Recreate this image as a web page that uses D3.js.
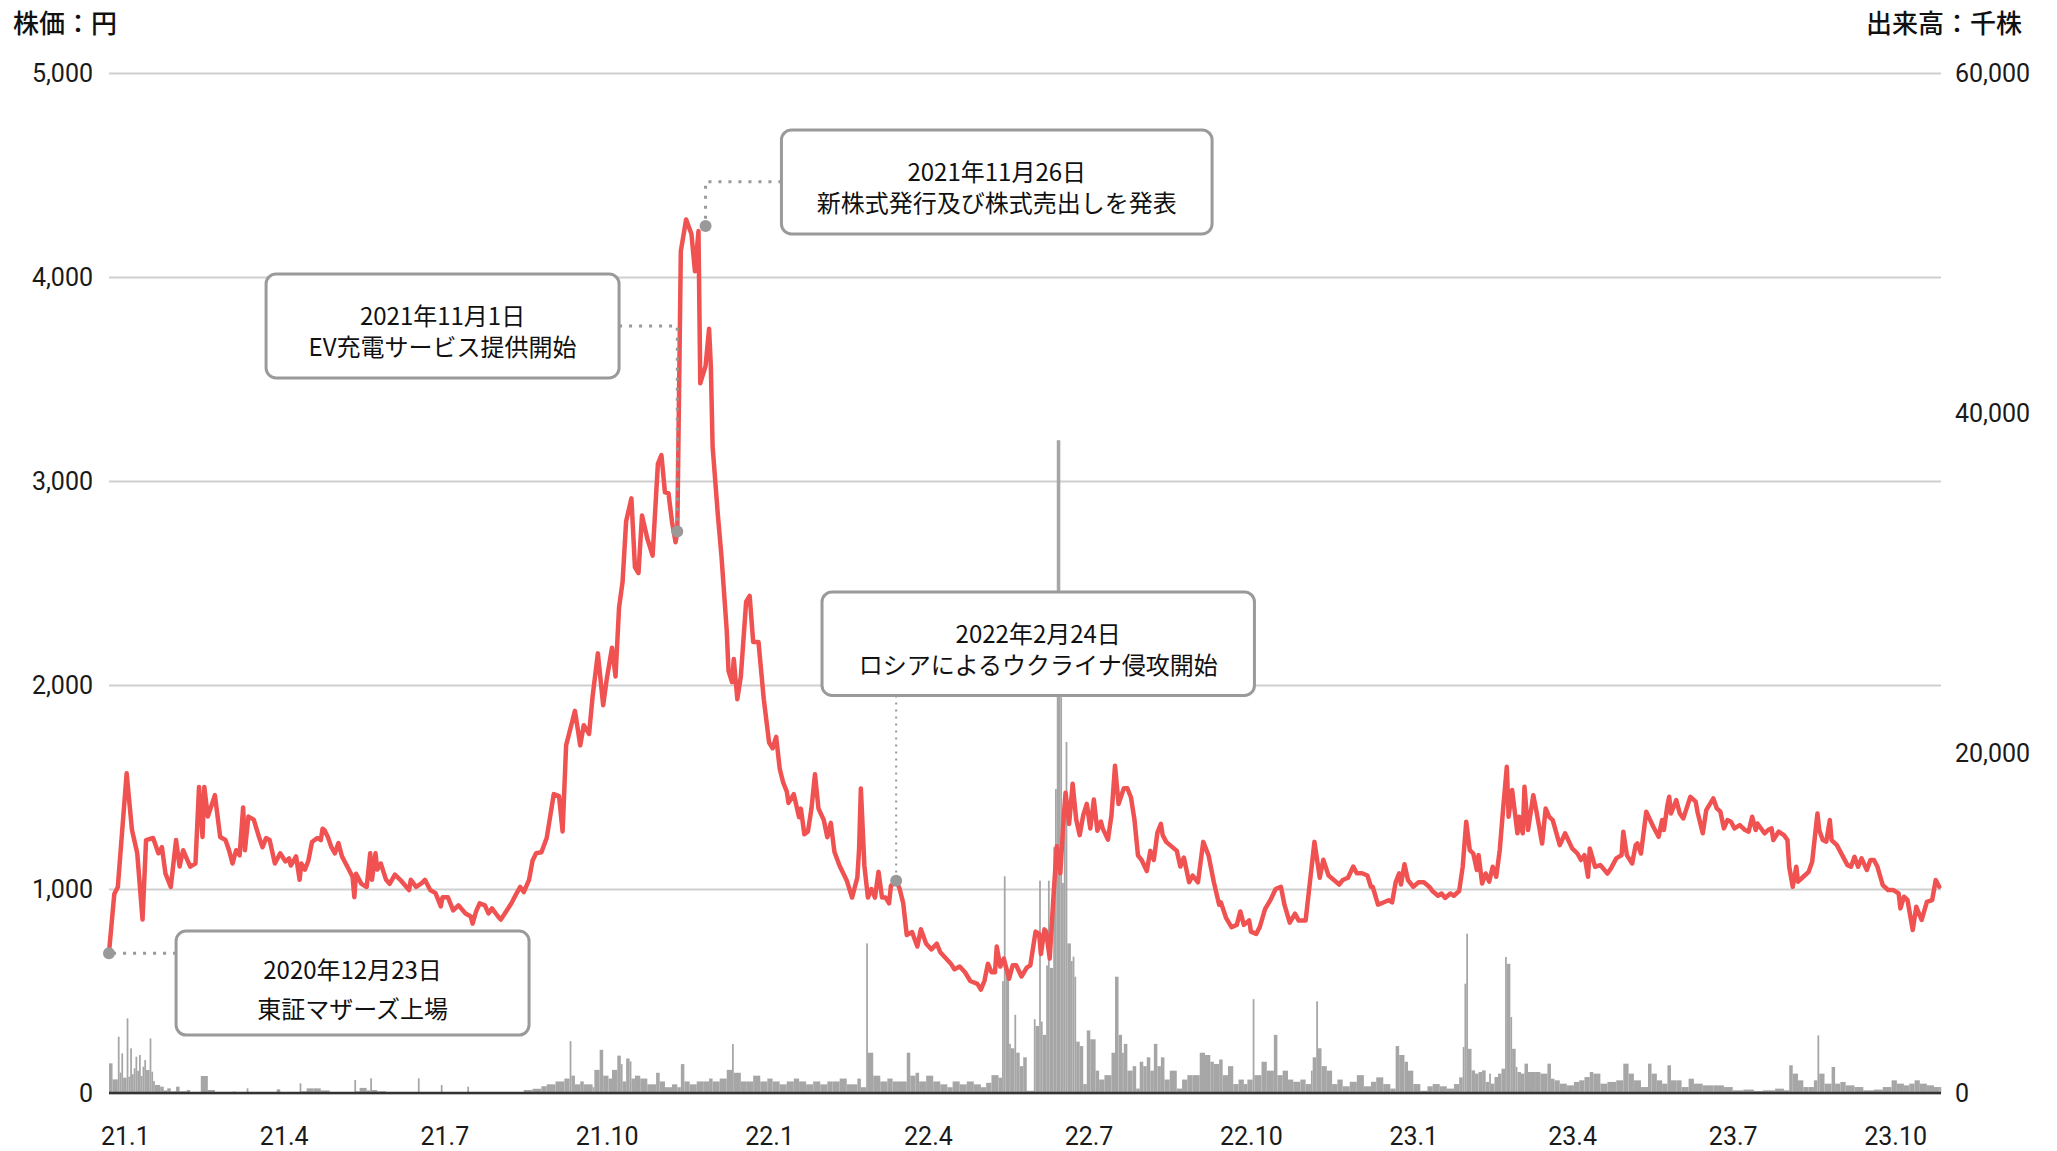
<!DOCTYPE html>
<html><head><meta charset="utf-8">
<script src="https://cdn.jsdelivr.net/npm/d3@7"></script>
<style>
html,body{margin:0;padding:0;background:#fff;}
svg{display:block;}
</style></head>
<body>
<svg id="chart" width="2057" height="1151"></svg>
<script>
// ---------------- DATA ----------------
const priceData = [
["2020-12-23",690],["2020-12-26",975],["2020-12-28",1010],
["2021-01-02",1567],["2021-01-05",1290],["2021-01-08",1175],["2021-01-11",850],["2021-01-13",1240],["2021-01-17",1250],["2021-01-20",1175],["2021-01-22",1205],["2021-01-24",1075],["2021-01-27",1010],["2021-01-30",1240],
["2021-02-01",1110],["2021-02-03",1190],["2021-02-07",1110],["2021-02-10",1125],["2021-02-12",1500],["2021-02-14",1255],["2021-02-15",1500],["2021-02-17",1355],["2021-02-21",1460],["2021-02-24",1255],["2021-02-27",1240],
["2021-03-01",1190],["2021-03-03",1125],["2021-03-05",1190],["2021-03-07",1165],["2021-03-09",1400],["2021-03-10",1190],["2021-03-12",1355],["2021-03-15",1340],["2021-03-18",1255],["2021-03-20",1205],["2021-03-22",1250],["2021-03-24",1240],["2021-03-27",1125],["2021-03-30",1175],
["2021-04-02",1135],["2021-04-04",1150],["2021-04-05",1115],["2021-04-08",1160],["2021-04-10",1045],["2021-04-11",1125],["2021-04-13",1095],["2021-04-15",1140],["2021-04-17",1230],["2021-04-20",1250],["2021-04-22",1240],["2021-04-23",1295],["2021-04-24",1290],["2021-04-26",1255],["2021-04-28",1205],["2021-04-30",1175],
["2021-05-02",1225],["2021-05-04",1160],["2021-05-07",1110],["2021-05-10",1060],["2021-05-11",960],["2021-05-12",1075],["2021-05-15",1025],["2021-05-18",1010],["2021-05-20",1175],["2021-05-21",1045],["2021-05-23",1175],["2021-05-24",1095],["2021-05-26",1125],["2021-05-29",1045],["2021-05-31",1025],
["2021-06-03",1070],["2021-06-06",1045],["2021-06-11",995],["2021-06-12",1045],["2021-06-15",1010],["2021-06-18",1027],["2021-06-20",1045],["2021-06-23",995],["2021-06-26",980],["2021-06-29",915],["2021-06-30",960],
["2021-07-03",960],["2021-07-06",895],["2021-07-09",920],["2021-07-13",880],["2021-07-16",865],["2021-07-17",830],["2021-07-19",890],["2021-07-21",930],["2021-07-24",920],["2021-07-26",880],["2021-07-28",905],["2021-07-31",870],
["2021-08-02",850],["2021-08-05",890],["2021-08-08",930],["2021-08-11",980],["2021-08-13",1010],["2021-08-15",985],["2021-08-18",1045],["2021-08-20",1140],["2021-08-22",1175],["2021-08-25",1180],["2021-08-28",1250],
["2021-09-01",1465],["2021-09-04",1455],["2021-09-06",1282],["2021-09-08",1704],["2021-09-13",1873],["2021-09-16",1704],["2021-09-18",1803],["2021-09-21",1760],["2021-09-23",1944],["2021-09-26",2155],["2021-09-29",1901],
["2021-10-01",2028],["2021-10-04",2183],["2021-10-06",2042],["2021-10-08",2380],["2021-10-10",2507],["2021-10-12",2803],["2021-10-15",2915],["2021-10-17",2577],["2021-10-19",2549],["2021-10-21",2831],["2021-10-24",2718],["2021-10-27",2634],["2021-10-30",3084],
["2021-11-01",3127],["2021-11-03",2944],["2021-11-05",2940],["2021-11-07",2800],["2021-11-09",2700],["2021-11-10",2752],["2021-11-12",4127],["2021-11-15",4282],["2021-11-18",4211],["2021-11-20",4028],["2021-11-22",4225],["2021-11-23",3479],["2021-11-26",3563],["2021-11-28",3746],["2021-11-29",3563],["2021-11-30",3169],
["2021-12-03",2831],["2021-12-05",2634],["2021-12-08",2268],["2021-12-09",2070],["2021-12-11",2014],["2021-12-12",2127],["2021-12-14",1930],["2021-12-16",2042],["2021-12-19",2408],["2021-12-21",2437],["2021-12-23",2211],["2021-12-26",2211],["2021-12-29",1930],
["2022-01-01",1718],["2022-01-03",1690],["2022-01-05",1746],["2022-01-07",1591],["2022-01-09",1521],["2022-01-11",1479],["2022-01-12",1422],["2022-01-15",1465],["2022-01-18",1352],["2022-01-19",1394],["2022-01-21",1268],["2022-01-23",1282],["2022-01-25",1394],["2022-01-27",1563],["2022-01-29",1394],
["2022-02-01",1338],["2022-02-03",1254],["2022-02-05",1324],["2022-02-07",1183],["2022-02-10",1113],["2022-02-14",1042],["2022-02-17",958],["2022-02-20",1056],["2022-02-21",1197],["2022-02-22",1493],["2022-02-24",1113],["2022-02-26",958],["2022-02-28",1000],
["2022-03-02",958],["2022-03-04",1084],["2022-03-06",958],["2022-03-08",958],["2022-03-10",930],["2022-03-11",1014],["2022-03-14",1042],["2022-03-16",1000],["2022-03-18",930],["2022-03-20",775],["2022-03-23",789],["2022-03-26",718],["2022-03-28",803],["2022-03-31",732],
["2022-04-03",704],["2022-04-06",732],["2022-04-08",690],["2022-04-11",662],["2022-04-14",634],["2022-04-16",606],["2022-04-19",620],["2022-04-22",592],["2022-04-25",549],["2022-04-29",535],
["2022-05-01",507],["2022-05-03",549],["2022-05-05",634],["2022-05-07",592],["2022-05-09",592],["2022-05-10",718],["2022-05-12",620],["2022-05-14",659],["2022-05-17",560],["2022-05-19",626],["2022-05-21",626],["2022-05-24",571],["2022-05-27",615],["2022-05-29",626],
["2022-06-01",791],["2022-06-03",780],["2022-06-04",681],["2022-06-06",802],["2022-06-07",791],["2022-06-09",659],["2022-06-11",945],["2022-06-13",1209],["2022-06-15",1077],["2022-06-17",1362],["2022-06-18",1472],["2022-06-20",1319],["2022-06-22",1516],["2022-06-24",1341],["2022-06-26",1264],["2022-06-28",1362],["2022-06-30",1417],
["2022-07-02",1297],["2022-07-04",1439],["2022-07-06",1286],["2022-07-08",1330],["2022-07-09",1297],["2022-07-12",1242],["2022-07-14",1362],["2022-07-16",1604],["2022-07-18",1417],["2022-07-21",1494],["2022-07-23",1494],["2022-07-25",1450],["2022-07-27",1341],["2022-07-29",1165],["2022-07-31",1143],
["2022-08-03",1088],["2022-08-05",1187],["2022-08-07",1143],["2022-08-09",1275],["2022-08-11",1319],["2022-08-12",1264],["2022-08-14",1231],["2022-08-17",1209],["2022-08-20",1187],["2022-08-22",1110],["2022-08-24",1154],["2022-08-27",1033],["2022-08-29",1066],
["2022-09-01",1033],["2022-09-02",1099],["2022-09-04",1231],["2022-09-07",1165],["2022-09-10",1033],["2022-09-13",923],["2022-09-14",934],["2022-09-17",857],["2022-09-20",813],["2022-09-23",824],["2022-09-25",890],["2022-09-27",824],["2022-09-30",846],
["2022-10-01",791],["2022-10-04",780],["2022-10-06",813],["2022-10-09",901],["2022-10-12",945],["2022-10-15",1000],["2022-10-18",1011],["2022-10-20",923],["2022-10-23",835],["2022-10-26",879],["2022-10-28",846],
["2022-11-01",846],["2022-11-04",1077],["2022-11-06",1231],["2022-11-09",1055],["2022-11-11",1143],["2022-11-14",1066],["2022-11-17",1044],["2022-11-20",1022],["2022-11-22",1044],["2022-11-25",1055],["2022-11-28",1110],["2022-11-30",1077],
["2022-12-03",1077],["2022-12-06",1066],["2022-12-08",1011],["2022-12-09",1011],["2022-12-12",923],["2022-12-15",934],["2022-12-18",945],["2022-12-20",934],["2022-12-22",1033],["2022-12-24",1077],["2022-12-25",1022],["2022-12-27",1121],["2022-12-29",1044],
["2023-01-01",1011],["2023-01-04",1033],["2023-01-07",1033],["2023-01-10",1011],["2023-01-12",989],["2023-01-15",967],["2023-01-17",978],["2023-01-19",956],["2023-01-22",978],["2023-01-24",967],["2023-01-27",990],["2023-01-29",1109],["2023-01-31",1330],
["2023-02-02",1191],["2023-02-04",1174],["2023-02-06",1093],["2023-02-07",1166],["2023-02-09",1027],["2023-02-11",1076],["2023-02-13",1036],["2023-02-15",1109],["2023-02-17",1060],["2023-02-19",1191],["2023-02-21",1403],["2023-02-23",1599],["2023-02-24",1354],["2023-02-26",1485],
["2023-03-01",1273],["2023-03-02",1354],["2023-03-04",1273],["2023-03-05",1501],["2023-03-07",1289],["2023-03-10",1460],["2023-03-12",1370],["2023-03-15",1223],["2023-03-17",1395],["2023-03-19",1354],["2023-03-21",1338],["2023-03-25",1215],["2023-03-28",1273],
["2023-04-01",1199],["2023-04-04",1174],["2023-04-06",1142],["2023-04-08",1166],["2023-04-10",1060],["2023-04-11",1199],["2023-04-14",1109],["2023-04-17",1117],["2023-04-21",1076],["2023-04-23",1101],["2023-04-26",1150],["2023-04-29",1166],["2023-04-30",1281],
["2023-05-02",1166],["2023-05-05",1125],["2023-05-07",1215],["2023-05-08",1223],["2023-05-10",1174],["2023-05-13",1379],["2023-05-17",1305],["2023-05-20",1256],["2023-05-22",1338],["2023-05-23",1289],["2023-05-25",1411],["2023-05-26",1452],["2023-05-27",1370],["2023-05-30",1436],
["2023-06-01",1370],["2023-06-03",1346],["2023-06-07",1452],["2023-06-10",1428],["2023-06-11",1379],["2023-06-14",1273],["2023-06-16",1387],["2023-06-20",1444],["2023-06-22",1395],["2023-06-24",1379],["2023-06-26",1297],["2023-06-28",1338],["2023-06-30",1330],
["2023-07-02",1297],["2023-07-05",1313],["2023-07-08",1289],["2023-07-10",1281],["2023-07-12",1354],["2023-07-14",1289],["2023-07-15",1321],["2023-07-19",1273],["2023-07-21",1289],["2023-07-23",1297],["2023-07-24",1240],["2023-07-27",1281],["2023-07-30",1264],
["2023-08-01",1240],["2023-08-02",1109],["2023-08-04",1011],["2023-08-06",1109],["2023-08-07",1036],["2023-08-10",1060],["2023-08-13",1084],["2023-08-15",1134],["2023-08-18",1370],["2023-08-19",1289],["2023-08-21",1240],["2023-08-23",1232],["2023-08-25",1338],["2023-08-26",1240],["2023-08-29",1215],
["2023-09-01",1166],["2023-09-04",1117],["2023-09-06",1109],["2023-09-08",1158],["2023-09-10",1109],["2023-09-12",1150],["2023-09-15",1093],["2023-09-17",1142],["2023-09-19",1142],["2023-09-21",1109],["2023-09-24",1019],["2023-09-27",995],["2023-09-30",995],
["2023-10-03",978],["2023-10-04",905],["2023-10-06",962],["2023-10-08",946],["2023-10-11",799],["2023-10-13",913],["2023-10-16",848],["2023-10-19",937],["2023-10-22",946],["2023-10-24",1044],["2023-10-26",1011]
];

const volumeData = [
["2020-12-23",1745],["2020-12-25",800],["2020-12-28",3313],["2020-12-29",1200],["2020-12-30",2332],["2020-12-31",900],
["2021-01-02",4390],["2021-01-03",960],["2021-01-04",2626],["2021-01-05",1100],["2021-01-06",1450],["2021-01-07",2136],["2021-01-08",1300],["2021-01-09",2234],["2021-01-10",1000],["2021-01-11",1548],["2021-01-12",1940],["2021-01-13",1352],["2021-01-15",3214],["2021-01-16",1254],["2021-01-17",700],["2021-01-18",470],["2021-01-21",372],["2021-01-23",150],["2021-01-25",274],["2021-01-27",100],["2021-01-30",372],
["2021-02-01",100],["2021-02-05",176],["2021-02-07",50],["2021-02-13",1000],["2021-02-17",176],["2021-02-21",50],
["2021-03-03",78],["2021-03-05",30],["2021-03-11",274],["2021-03-12",30],["2021-03-28",216],["2021-03-30",30],
["2021-04-10",568],["2021-04-11",100],["2021-04-14",274],["2021-04-18",274],["2021-04-22",150],["2021-04-27",30],
["2021-05-11",764],["2021-05-12",100],["2021-05-14",300],["2021-05-18",150],["2021-05-20",862],["2021-05-21",176],["2021-05-24",100],["2021-05-29",30],
["2021-06-16",862],["2021-06-17",50],["2021-06-21",30],["2021-06-29",470],["2021-06-30",30],
["2021-07-14",372],["2021-07-15",30],
["2021-08-05",50],["2021-08-15",176],["2021-08-20",250],["2021-08-25",400],["2021-08-28",510],
["2021-09-02",680],["2021-09-07",850],["2021-09-10",3050],["2021-09-11",1020],["2021-09-13",510],["2021-09-16",680],["2021-09-18",510],["2021-09-21",510],["2021-09-23",340],["2021-09-24",1360],["2021-09-27",2540],["2021-09-29",1020],
["2021-10-02",850],["2021-10-04",1360],["2021-10-07",2200],["2021-10-09",1700],["2021-10-10",680],["2021-10-12",2030],["2021-10-14",1860],["2021-10-15",850],["2021-10-17",1020],["2021-10-20",850],["2021-10-24",510],["2021-10-29",1190],["2021-10-31",680],
["2021-11-03",340],["2021-11-07",510],["2021-11-10",340],["2021-11-12",1700],["2021-11-14",680],["2021-11-17",510],["2021-11-21",680],["2021-11-25",680],["2021-11-28",850],["2021-11-30",680],
["2021-12-04",850],["2021-12-08",1360],["2021-12-11",2880],["2021-12-12",1190],["2021-12-16",680],["2021-12-19",680],["2021-12-23",1020],["2021-12-27",680],["2021-12-31",850],
["2022-01-03",680],["2022-01-07",510],["2022-01-11",680],["2022-01-15",850],["2022-01-18",680],["2022-01-22",510],["2022-01-26",680],["2022-01-30",510],
["2022-02-03",680],["2022-02-06",680],["2022-02-10",850],["2022-02-14",510],["2022-02-20",850],["2022-02-22",340],["2022-02-25",8800],["2022-02-26",2370],
["2022-03-01",1020],["2022-03-05",680],["2022-03-09",850],["2022-03-12",680],["2022-03-15",680],["2022-03-20",2370],["2022-03-22",1020],["2022-03-25",1190],["2022-03-27",680],["2022-03-31",1020],
["2022-04-04",680],["2022-04-08",510],["2022-04-12",340],["2022-04-15",680],["2022-04-19",510],["2022-04-23",680],["2022-04-27",510],
["2022-05-01",340],["2022-05-04",600],["2022-05-07",1050],["2022-05-11",900],["2022-05-13",6575],["2022-05-14",12750],["2022-05-15",7100],["2022-05-17",2890],["2022-05-18",2630],["2022-05-20",4600],["2022-05-21",2370],["2022-05-23",1580],["2022-05-25",2100],["2022-05-27",130],["2022-05-29",130],["2022-05-31",4340],
["2022-06-01",3945],["2022-06-03",12490],["2022-06-04",4200],["2022-06-05",3420],["2022-06-07",7500],["2022-06-08",12490],["2022-06-09",7360],["2022-06-11",14460],["2022-06-12",17880],["2022-06-13",38400],["2022-06-15",23280],["2022-06-16",12360],["2022-06-17",17620],["2022-06-18",20650],["2022-06-19",8800],["2022-06-21",7760],["2022-06-22",8020],["2022-06-23",6840],["2022-06-24",3020],["2022-06-26",2760],["2022-06-28",525],["2022-06-30",3680],
["2022-07-02",3160],["2022-07-05",1315],["2022-07-07",790],["2022-07-10",1050],["2022-07-14",2370],["2022-07-16",6840],["2022-07-18",3420],["2022-07-20",2370],["2022-07-21",2890],["2022-07-23",1315],["2022-07-26",1580],["2022-07-28",260],["2022-07-30",1840],
["2022-08-01",1580],["2022-08-03",2100],["2022-08-05",1315],["2022-08-07",2890],["2022-08-09",1580],["2022-08-11",2100],["2022-08-13",790],["2022-08-16",1315],["2022-08-20",260],["2022-08-23",790],["2022-08-26",1050],["2022-08-29",1050],
["2022-09-02",2370],["2022-09-05",2235],["2022-09-08",1840],["2022-09-10",1710],["2022-09-13",1970],["2022-09-15",1050],["2022-09-18",1580],["2022-09-21",525],["2022-09-24",790],["2022-09-27",525],["2022-09-29",790],
["2022-10-02",5520],["2022-10-03",1050],["2022-10-07",1840],["2022-10-10",1315],["2022-10-14",3420],["2022-10-16",1050],["2022-10-19",1315],["2022-10-22",790],["2022-10-25",660],["2022-10-29",790],
["2022-11-01",525],["2022-11-04",1315],["2022-11-05",2100],["2022-11-07",5390],["2022-11-08",2630],["2022-11-10",1580],["2022-11-13",1315],["2022-11-16",525],["2022-11-19",790],["2022-11-22",395],["2022-11-26",660],["2022-11-30",1050],
["2022-12-04",395],["2022-12-08",660],["2022-12-11",920],["2022-12-15",525],["2022-12-19",260],["2022-12-22",2760],["2022-12-24",2235],["2022-12-27",1840],["2022-12-29",1315],
["2023-01-01",525],["2023-01-05",130],["2023-01-09",395],["2023-01-12",525],["2023-01-16",395],["2023-01-20",260],["2023-01-24",525],["2023-01-27",920],["2023-01-29",2700],["2023-01-30",6430],["2023-01-31",9370],
["2023-02-01",2600],["2023-02-03",1330],["2023-02-05",1140],["2023-02-07",1235],["2023-02-09",1330],["2023-02-11",650],["2023-02-13",1140],["2023-02-14",550],["2023-02-16",940],["2023-02-18",1140],["2023-02-20",1430],["2023-02-22",8000],["2023-02-23",7600],["2023-02-25",4470],["2023-02-26",2600],["2023-02-28",1530],
["2023-03-01",1235],["2023-03-03",1140],["2023-03-05",1725],["2023-03-07",1235],["2023-03-11",1235],["2023-03-14",1140],["2023-03-18",1725],["2023-03-20",840],["2023-03-22",745],["2023-03-25",550],["2023-03-29",450],
["2023-04-02",650],["2023-04-05",745],["2023-04-08",940],["2023-04-11",1235],["2023-04-13",1140],["2023-04-17",550],["2023-04-21",650],["2023-04-26",745],["2023-04-30",1725],
["2023-05-03",1140],["2023-05-06",745],["2023-05-10",350],["2023-05-14",1725],["2023-05-16",1140],["2023-05-19",745],["2023-05-22",550],["2023-05-25",1630],["2023-05-27",745],["2023-05-30",745],
["2023-06-02",350],["2023-06-06",840],["2023-06-09",550],["2023-06-14",450],["2023-06-20",450],["2023-06-26",350],
["2023-07-01",157],["2023-07-07",200],["2023-07-13",120],["2023-07-18",157],["2023-07-25",255],["2023-07-30",157],
["2023-08-02",1630],["2023-08-04",1140],["2023-08-07",745],["2023-08-10",350],["2023-08-13",350],["2023-08-16",745],["2023-08-18",3390],["2023-08-19",1140],["2023-08-22",550],["2023-08-26",1530],["2023-08-28",550],["2023-08-31",650],
["2023-09-03",450],["2023-09-08",350],["2023-09-13",157],["2023-09-19",200],["2023-09-24",350],["2023-09-29",745],
["2023-10-02",550],["2023-10-06",450],["2023-10-09",550],["2023-10-12",745],["2023-10-15",550],["2023-10-19",450],["2023-10-23",350],["2023-10-26",350]
];

const xDomain = ["2020-12-23","2023-10-27"];
const xTickDates = ["2021-01-01","2021-04-01","2021-07-01","2021-10-01","2022-01-01","2022-04-01","2022-07-01","2022-10-01","2023-01-01","2023-04-01","2023-07-01","2023-10-01"];
const xTickLabels = ["21.1","21.4","21.7","21.10","22.1","22.4","22.7","22.10","23.1","23.4","23.7","23.10"];
const priceTicks = [0,1000,2000,3000,4000,5000];
const volumeTicks = [0,20000,40000,60000];
const priceMax = 5000, volumeMax = 60000;
const leftTitle = "株価：円", rightTitle = "出来高：千株";

// annotations (anchor points)
const noteDates = ["2020-12-23","2021-11-10","2021-11-26","2022-03-14"];
const noteValues = [685, 2752, 4250, 1040];
const noteLine1 = ["2020年12月23日","2021年11月1日","2021年11月26日","2022年2月24日"];
const noteLine2 = ["東証マザーズ上場","EV充電サービス提供開始","新株式発行及び株式売出しを発表","ロシアによるウクライナ侵攻開始"];

// ---------------- LAYOUT ----------------
const W = 2057, H = 1151;
const M = {left:109, right:1941, top:73, bottom:1093};
// annotation boxes expressed in data units (placed through the scales)
const noteBoxes = [
  {from:"2021-01-30", to:"2021-08-18", top:794,  bottom:284,  link:"left",  l1:-15, l2:24},
  {from:"2021-03-22", to:"2021-10-08", top:4015, bottom:3505, link:"right", elbow:3760, l1:-11, l2:20},
  {from:"2022-01-08", to:"2022-09-09", top:4721, bottom:4211, link:"left",  elbow:4467, l1:-11, l2:20},
  {from:"2022-01-31", to:"2022-10-03", top:2456, bottom:1949, link:"bottom", l1:-11, l2:20}
];
const C = {line:"#f05252", vol:"#a6a6a6", grid:"#cfcfcf", base:"#333", text:"#1a1a1a", box:"#9a9a9a", dot:"#999"};
const numFont = "Roboto, 'Noto Sans', sans-serif";
const jpFont = "'Noto Sans CJK JP', 'Noto Sans', sans-serif";

// ---------------- DRAW ----------------
const parse = d3.timeParse("%Y-%m-%d");
const svg = d3.select("#chart");
const x = d3.scaleTime().domain(xDomain.map(parse)).range([M.left, M.right]);
const yP = d3.scaleLinear().domain([0, priceMax]).range([M.bottom, M.top]);
const yV = d3.scaleLinear().domain([0, volumeMax]).range([M.bottom, M.top]);

// gridlines
const grid = svg.append("g").attr("transform", `translate(${M.left},0)`)
  .call(d3.axisLeft(yP).tickValues(priceTicks).tickSize(-(M.right - M.left)).tickFormat(""));
grid.select(".domain").remove();
grid.selectAll("line").attr("stroke", C.grid).attr("stroke-width", 2);

// volume bars
const vol = volumeData.map(([d, v]) => ({date: parse(d), v}));
svg.append("g").selectAll("rect").data(vol).join("rect")
  .attr("x", d => x(d.date))
  .attr("width", (d, i) => i < vol.length - 1 ? Math.max(1, x(vol[i+1].date) - x(d.date)) : 2)
  .attr("y", d => yV(d.v))
  .attr("height", d => yV(0) - yV(d.v))
  .attr("fill", C.vol);

// baseline
svg.append("line").attr("x1", M.left).attr("x2", M.right).attr("y1", yP(0)).attr("y2", yP(0))
  .attr("stroke", C.base).attr("stroke-width", 2.5);

// price line
const price = priceData.map(([d, v]) => ({date: parse(d), v}));
svg.append("path").datum(price)
  .attr("d", d3.line().x(d => x(d.date)).y(d => yP(d.v)))
  .attr("fill", "none").attr("stroke", C.line).attr("stroke-width", 4.5)
  .attr("stroke-linejoin", "round").attr("stroke-linecap", "round");

// axes
const axL = svg.append("g").attr("transform", `translate(${M.left},0)`)
  .call(d3.axisLeft(yP).tickValues(priceTicks).tickFormat(d3.format(",")).tickSize(0).tickPadding(16));
const axR = svg.append("g").attr("transform", `translate(${M.right},0)`)
  .call(d3.axisRight(yV).tickValues(volumeTicks).tickFormat(d3.format(",")).tickSize(0).tickPadding(14));
const axB = svg.append("g").attr("transform", `translate(0,${M.bottom})`)
  .call(d3.axisBottom(x).tickValues(xTickDates.map(parse)).tickFormat((d, i) => xTickLabels[i]).tickSize(0).tickPadding(34));
[axL, axR, axB].forEach(a => {
  a.select(".domain").remove();
  a.selectAll("text").attr("font-family", numFont).attr("font-size", 25).attr("fill", C.text);
});

// titles
svg.append("text").attr("x", 13).attr("y", 21).attr("dominant-baseline", "central")
  .attr("font-family", jpFont).attr("font-size", 26).attr("font-weight", 500).attr("fill", "#111").text(leftTitle);
svg.append("text").attr("x", 2022).attr("y", 21).attr("dominant-baseline", "central").attr("text-anchor", "end")
  .attr("font-family", jpFont).attr("font-size", 26).attr("font-weight", 500).attr("fill", "#111").text(rightTitle);

// annotations
const notes = noteDates.map((d, i) => ({date: parse(d), v: noteValues[i], t1: noteLine1[i], t2: noteLine2[i], box: noteBoxes[i]}));
const ng = svg.append("g");
notes.forEach(n => {
  const ax = x(n.date), ay = yP(n.v);
  const bx0 = x(parse(n.box.from)), bx1 = x(parse(n.box.to));
  const by0 = yP(n.box.top), by1 = yP(n.box.bottom);
  let pts;
  if (n.box.link === "left") {
    const ey = n.box.elbow !== undefined ? yP(n.box.elbow) : ay;
    pts = [[bx0, ey], [ax, ey], [ax, ay]];
  } else if (n.box.link === "right") {
    const ey = yP(n.box.elbow);
    pts = [[bx1, ey], [ax, ey], [ax, ay]];
  } else {
    pts = [[ax, by1], [ax, ay]];
  }
  const thin = n.box.link === "bottom";
  ng.append("path").attr("d", d3.line()(pts)).attr("fill", "none")
    .attr("stroke", C.dot).attr("stroke-width", thin ? 2 : 3)
    .attr("stroke-dasharray", thin ? "2,5" : "3,7");
  ng.append("circle").attr("cx", ax).attr("cy", ay).attr("r", 6).attr("fill", C.dot);
  ng.append("rect").attr("x", bx0).attr("y", by0).attr("width", bx1 - bx0).attr("height", by1 - by0)
    .attr("rx", 10).attr("ry", 10).attr("fill", "#fff").attr("stroke", C.box).attr("stroke-width", 3);
  const cx = (bx0 + bx1) / 2, cy = (by0 + by1) / 2;
  ng.append("text").attr("x", cx).attr("y", cy + n.box.l1).attr("text-anchor", "middle").attr("dominant-baseline", "central")
    .attr("font-family", jpFont).attr("font-size", 24).attr("fill", "#111").text(n.t1);
  ng.append("text").attr("x", cx).attr("y", cy + n.box.l2).attr("text-anchor", "middle").attr("dominant-baseline", "central")
    .attr("font-family", jpFont).attr("font-size", 24).attr("fill", "#111").text(n.t2);
});
</script>
</body></html>
